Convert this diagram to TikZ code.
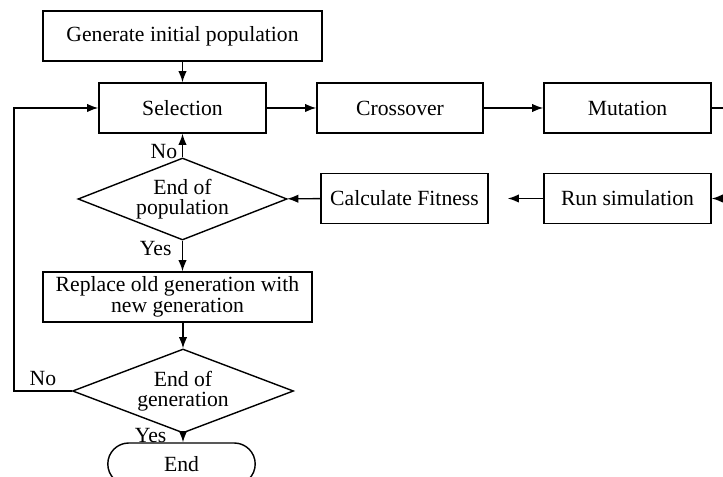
\documentclass[tikz,border=0pt]{standalone}
\usepackage{fontspec}
\setmainfont{Liberation Serif}
\usetikzlibrary{arrows.meta, shapes.geometric, shapes.misc}

\begin{document}
\begin{tikzpicture}[x=0.025cm, y=-0.025cm, font=\fontsize{15.4}{14.6}\selectfont,
      >={Latex[length=8pt, width=6pt]}, line width=1pt,
      blk/.style={draw, align=center, inner sep=2pt, minimum height=1.25cm},
      dec/.style={draw, diamond, aspect=2.6, align=center, inner sep=0pt},
      term/.style={draw, rounded rectangle, inner sep=2pt}]
    \useasboundingbox (0,0) rectangle (723,477);
    \node[blk, minimum width=6.975cm] (gen) at (182.5,36) {Generate initial population};
    \node[blk, minimum width=4.175cm] (sel) at (182.5,108) {Selection};
    \node[blk, minimum width=4.15cm] (cross) at (400,108) {Crossover};
    \node[blk, minimum width=4.175cm] (mut) at (627.5,108) {Mutation};
    \node[blk, minimum width=4.175cm] (run) at (627.5,198.5) {Run simulation};
    \node[blk, minimum width=4.175cm] (fit) at (404.5,198.5) {Calculate Fitness};
    \node[dec, minimum width=5.225cm, minimum height=2.05cm] (endpop) at (182.5,199) {End of\\population};
    \node[blk, minimum width=6.725cm] (repl) at (177.5,297) {Replace old generation with\\new generation};
    \node[dec, minimum width=5.525cm, minimum height=2.1cm] (endgen) at (183,391) {End of\\generation};
    \node[term, minimum width=3.825cm, minimum height=1.05cm] (fin) at (181.5,464) {End};
    \coordinate (lft) at (14,391);
    \draw[->] (gen) -- (sel);
    \draw[->] (sel) -- (cross);
    \draw[->] (cross) -- (mut);
    \draw[->] (mut.east) -- ++(20,0) |- (run.east);
    \draw[->, shorten >=0.475cm] (run) -- (fit);
    \draw[->] (fit) -- (endpop);
    \draw[->] (endpop) -- node[near start, left] {No} (sel);
    \draw[->] (endpop.south) -- node[near start, left, xshift=-4pt] {Yes} (endpop.south |- repl.north);
    \draw[->] (endgen.north |- repl.south) -- (endgen.north);
    \draw[->] (endgen.west) -- node[above] {No} (lft) |- (sel.west);
    \draw[->] (endgen.south) -- node[pos=0.2, left, xshift=-8pt] {Yes} (endgen.south |- fin.north);
  \end{tikzpicture}
\end{document}
